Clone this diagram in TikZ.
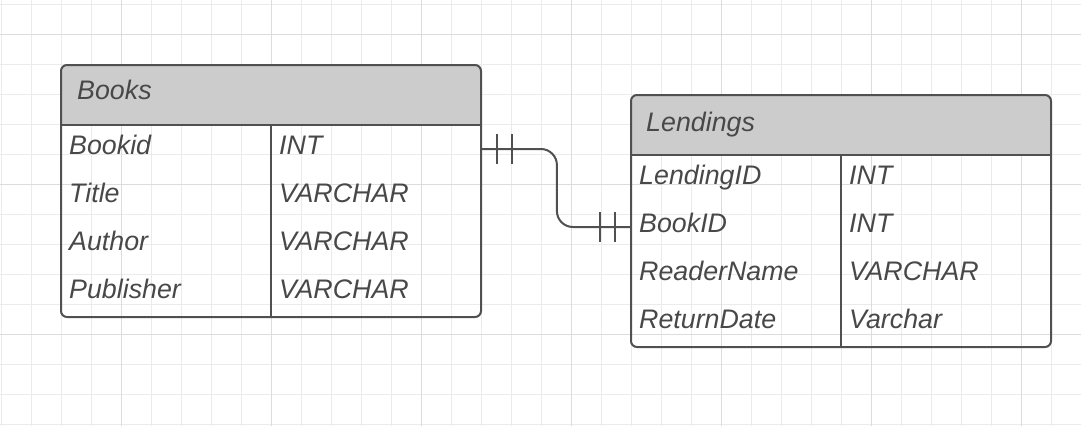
\documentclass[tikz,border=0pt]{standalone}
\usepackage{fontspec}
\setmainfont{Liberation Sans}
\usetikzlibrary{calc}
\definecolor{gridminor}{HTML}{EBEBEB}
\definecolor{gridmajor}{HTML}{DCDCDC}
\definecolor{edge}{HTML}{505050}
\definecolor{hdr}{HTML}{CCCCCC}
\definecolor{txt}{HTML}{484848}
\tikzset{
  frame/.style={draw=edge, line width=2pt},
  hdrfill/.style={fill=hdr},
  cell/.style={anchor=base west, inner sep=0pt, text=txt, font=\fontsize{26.8}{30}\selectfont\itshape},
  rowanchor/.style={draw=none, inner sep=0pt, minimum width=420pt, minimum height=48pt},
  conn/.style={draw=edge, line width=2pt, rounded corners=16pt},
  tick/.style={draw=edge, line width=2pt},
}
\begin{document}
\begin{tikzpicture}[x=1pt,y=-1pt]
\useasboundingbox (0,0) rectangle (1081,426);
\fill[white] (0,0) rectangle (1081,426);
% grid
\foreach \i in {0,...,36} {
  \pgfmathsetmacro\gx{1.7+30*\i}
  \draw[gridminor, line width=1pt] (\gx,0) -- (\gx,426);
}
\foreach \j in {0,...,14} {
  \pgfmathsetmacro\gy{4.3+30*\j}
  \draw[gridminor, line width=1pt] (0,\gy) -- (1081,\gy);
}
\foreach \i in {4,9,...,34} {
  \pgfmathsetmacro\gx{1.7+30*\i}
  \draw[gridmajor, line width=1pt] (\gx,0) -- (\gx,426);
}
\foreach \j in {1,6,11} {
  \pgfmathsetmacro\gy{4.3+30*\j}
  \draw[gridmajor, line width=1pt] (0,\gy) -- (1081,\gy);
}
% Books table
\fill[hdrfill] (61,125) {[rounded corners=6pt] -- (61,65) -- (481,65)} -- (481,125) -- cycle;
\draw[frame, rounded corners=6pt] (61,65) rectangle (481,317);
\draw[frame] (61,125) -- (481,125);
\draw[frame] (271,125) -- (271,317);
\node[cell] (bhead) at (77,99.5) {Books};
\node[rowanchor] (brow1) at (271,149) {};
\node[rowanchor] (brow2) at (271,197) {};
\node[rowanchor] (brow3) at (271,245) {};
\node[rowanchor] (brow4) at (271,293) {};
\node[cell] (bk1) at (69,154.5) {Bookid};
\node[cell] (bt1) at (279,154.5) {INT};
\node[cell] (bk2) at (69,202.5) {Title};
\node[cell] (bt2) at (279,202.5) {VARCHAR};
\node[cell] (bk3) at (69,250.5) {Author};
\node[cell] (bt3) at (279,250.5) {VARCHAR};
\node[cell] (bk4) at (69,298.5) {Publisher};
\node[cell] (bt4) at (279,298.5) {VARCHAR};
% Lendings table
\fill[hdrfill] (631,155) {[rounded corners=6pt] -- (631,95) -- (1051,95)} -- (1051,155) -- cycle;
\draw[frame, rounded corners=6pt] (631,95) rectangle (1051,347);
\draw[frame] (631,155) -- (1051,155);
\draw[frame] (841,155) -- (841,347);
\node[cell] (lhead) at (646,131) {Lendings};
\node[rowanchor] (lrow1) at (841,179) {};
\node[rowanchor] (lrow2) at (841,227) {};
\node[rowanchor] (lrow3) at (841,275) {};
\node[rowanchor] (lrow4) at (841,323) {};
\node[cell] (lk1) at (639,184.5) {LendingID};
\node[cell] (lt1) at (849,184.5) {INT};
\node[cell] (lk2) at (639,232.5) {BookID};
\node[cell] (lt2) at (849,232.5) {INT};
\node[cell] (lk3) at (639,280.5) {ReaderName};
\node[cell] (lt3) at (849,280.5) {VARCHAR};
\node[cell] (lk4) at (639,328.5) {ReturnDate};
\node[cell] (lt4) at (849,328.5) {Varchar};
% connector
\draw[conn] (brow1.east) -- ++(75.7,0) |- (lrow2.west);
\draw[tick] ($(brow1.east)+(15.7,-15)$) -- ++(0,30);
\draw[tick] ($(brow1.east)+(30.7,-15)$) -- ++(0,30);
\draw[tick] ($(lrow2.west)+(-31,-15)$) -- ++(0,30);
\draw[tick] ($(lrow2.west)+(-16,-15)$) -- ++(0,30);
\end{tikzpicture}
\end{document}
